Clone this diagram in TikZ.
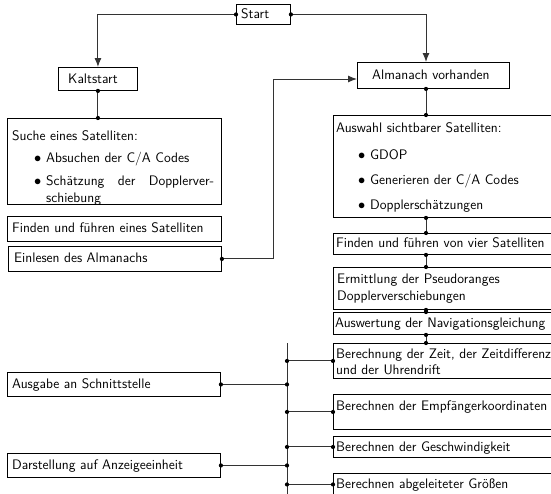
\documentclass[tikz,border=0pt]{standalone}
\usetikzlibrary{arrows.meta}
\newcommand\fs{\fontsize{13.8}{16}\selectfont\sffamily}
\newcommand\mybox[5]{\node[box,minimum width=#4pt,minimum height=#5pt] (#1) at (#2,#3) {};}
\newcommand\tl[4]{\node[txt] (#1) at (#2,#3+4.5) {#4};}
\newcommand\bl[4]{\node[txt] (#1b) at (#2,#3+4.5) {$\bullet$};\node[txt] (#1) at (#2+12,#3+4.5) {#4};}
\begin{document}
\begin{tikzpicture}[x=1pt,y=-1pt,
  box/.style={draw=black,line width=0.9pt,inner sep=0pt,anchor=north west},
  txt/.style={anchor=base west,inner sep=0pt,font=\fs},
  con/.style={draw=black!80,line width=1pt},
  dot/.style={circle,fill=black,inner sep=0pt,minimum size=4.2pt},
  arr/.style={con,-{Latex[length=9pt,width=7pt]}}]
\useasboundingbox (0,0) rectangle (551,493);
\clip (0,0) rectangle (551,493);
% boxes
\mybox{Start}{236}{4}{54}{20}
\mybox{Kalt}{58}{67}{79}{23}
\mybox{Suche}{7}{118}{214}{86}
\mybox{FindenE}{7}{216}{214}{25}
\mybox{Einlesen}{8}{246}{213}{25}
\mybox{Ausgabe}{7}{372}{213}{24}
\mybox{Darst}{7}{453}{213}{24}
\mybox{Alm}{357}{62}{152}{26}
\mybox{Auswahl}{333}{115}{240}{102}
\mybox{FindenV}{333}{233}{240}{21}
\mybox{Ermitt}{333}{267}{240}{42}
\mybox{Auswert}{333}{312}{240}{22}
\mybox{Berech}{333}{343}{240}{35}
\mybox{Empf}{333}{394}{240}{35}
\mybox{Geschw}{333}{436}{240}{21}
\mybox{Abgel}{333}{473}{240}{22}
% texts
\tl{tStart}{241}{14}{Start}
\tl{tKalt}{68}{78.5}{Kaltstart}
\tl{tSuche}{12}{136}{Suche eines Satelliten:}
\bl{tS1}{34}{158}{Absuchen der C/A Codes}
\bl{tS2}{34}{181}{\makebox[168pt][s]{Schätzung der Dopplerver-}}
\tl{tS3}{46}{198}{schiebung}
\tl{tFindenE}{12}{228}{Finden und führen eines Satelliten}
\tl{tEinlesen}{14}{258}{Einlesen des Almanachs}
\tl{tAusgabe}{12}{384}{Ausgabe an Schnittstelle}
\tl{tDarst}{12}{465}{Darstellung auf Anzeigeeinheit}
\tl{tAlm}{372}{75}{Almanach vorhanden}
\tl{tAuswahl}{336}{128}{Auswahl sichtbarer Satelliten:}
\bl{tA1}{358}{155}{GDOP}
\bl{tA2}{358}{180}{Generieren der C/A Codes}
\bl{tA3}{358}{205}{Dopplerschätzungen}
\tl{tFindenV}{336}{243}{Finden und führen von vier Satelliten}
\tl{tErm1}{337}{279}{Ermittlung der Pseudoranges}
\tl{tErm2}{337}{296}{Dopplerverschiebungen}
\tl{tAuswert}{335}{323}{Auswertung der Navigationsgleichung}
\tl{tBer1}{336}{354}{Berechnung der Zeit, der Zeitdifferenz}
\tl{tBer2}{336}{370}{und der Uhrendrift}
\tl{tEmpf}{336}{406}{Berechnen der Empfängerkoordinaten}
\tl{tGeschw}{336}{447}{Berechnen der Geschwindigkeit}
\tl{tAbgel}{336}{484}{Berechnen abgeleiteter Größen}
% helper coordinates
\coordinate (col) at (426,0);
\coordinate (j1) at (273,79);
\coordinate (bt) at (287,343);
\coordinate (bb) at (287,495);
% connectors
\draw[arr] (Start.west) -| (Kalt.north);
\draw[arr] (Start.east) -| (col |- Alm.north);
\draw[con] (Kalt.south) -- (Kalt.south |- Suche.north);
\draw[arr] (Einlesen.east) -| (j1) -- (Alm.west |- j1);
\draw[con] (col |- Alm.south) -- (col |- Auswahl.north);
\draw[con] (col |- Auswahl.south) -- (col |- FindenV.north);
\draw[con] (col |- FindenV.south) -- (col |- Ermitt.north);
\draw[con] (col |- Ermitt.south) -- (col |- Auswert.north);
\draw[con] (col |- Auswert.south) -- (col |- Berech.north);
\draw[con] (bt) -- (bb);
\draw[con] (Ausgabe.east) -- (bt |- Ausgabe.east);
\draw[con] (Darst.east) -- (bt |- Darst.east);
\draw[con] (bt |- Berech.west) -- (Berech.west);
\draw[con] (bt |- Empf.west) -- (Empf.west);
\draw[con] (bt |- Geschw.west) -- (Geschw.west);
\draw[con] (bt |- Abgel.west) -- (Abgel.west);
% dots
\foreach \p in {Start.west,Start.east,Kalt.south,Einlesen.east,Ausgabe.east,Darst.east,
  Berech.west,Empf.west,Geschw.west,Abgel.west}
  \node[dot] at (\p) {};
\node[dot] at (Kalt.south |- Suche.north) {};
\foreach \n in {Alm,Auswahl,FindenV,Ermitt,Auswert}
  \node[dot] at (col |- \n.south) {};
\foreach \n in {Auswahl,FindenV,Ermitt,Auswert,Berech}
  \node[dot] at (col |- \n.north) {};
\foreach \n in {Ausgabe.east,Darst.east,Berech.west,Empf.west,Geschw.west,Abgel.west}
  \node[dot] at (bt |- \n) {};
\end{tikzpicture}
\end{document}
